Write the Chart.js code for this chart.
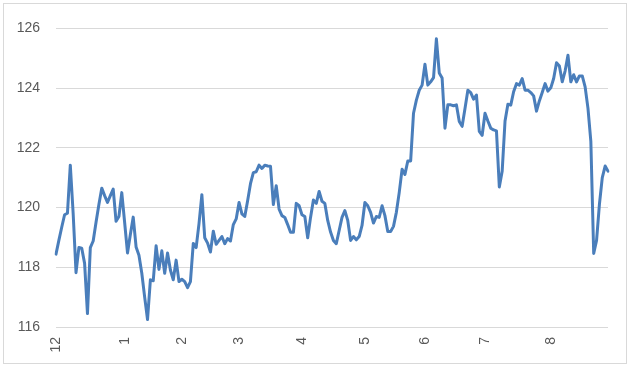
<!DOCTYPE html>
<html>
<head>
<meta charset="utf-8">
<script src="https://cdn.jsdelivr.net/npm/chart.js@4"></script>
<style>
  html, body { margin: 0; padding: 0; background: #ffffff; }
  #frame { position: absolute; left: 3px; top: 3px; width: 624px; height: 361px; box-sizing: border-box; border: 1px solid #d9d9d9; background: #fff; }
  #wrap { position: absolute; left: 0; top: 0; width: 622px; height: 359px; }
</style>
</head>
<body>
<div id="frame"><div id="wrap"><canvas id="c"></canvas></div></div>
<script>
// Month tick labels and the data index at which each appears
const monthLabels = ["12", "1", "2", "3", "4", "5", "6", "7", "8"];
const monthIndex  = [0, 24, 44, 64, 86, 108, 129, 150, 173];

// Series values (one per trading day)
const values = [
  118.44, 118.9, 119.34, 119.76, 119.81, 121.42, 119.8, 117.82, 118.66, 118.64, 118.13,
  116.45, 118.66, 118.88, 119.51, 120.1, 120.65, 120.4, 120.17, 120.4, 120.62,
  119.54, 119.7, 120.5, 119.5, 118.48, 119.1, 119.68, 118.68, 118.4, 117.8,
  117.0, 116.25, 117.58, 117.55, 118.72, 117.93, 118.55, 117.8, 118.48, 117.91,
  117.58, 118.24, 117.52, 117.6, 117.52, 117.32, 117.52, 118.8, 118.66, 119.46,
  120.43, 118.99, 118.81, 118.51, 119.21, 118.77, 118.9, 119.03, 118.79, 118.96,
  118.88, 119.43, 119.62, 120.17, 119.79, 119.7, 120.23, 120.8, 121.17, 121.2,
  121.42, 121.31, 121.42, 121.39, 121.38, 120.1, 120.73, 119.95, 119.73, 119.67,
  119.43, 119.17, 119.17, 120.14, 120.06, 119.76, 119.7, 118.99, 119.67, 120.25,
  120.14, 120.54, 120.21, 120.14, 119.57, 119.18, 118.9, 118.79, 119.23, 119.67,
  119.9, 119.57, 118.9, 119.03, 118.92, 119.03, 119.4, 120.17, 120.06, 119.84,
  119.48, 119.7, 119.67, 120.06, 119.73, 119.2, 119.2, 119.37, 119.84, 120.5,
  121.28, 121.11, 121.56, 121.56, 123.16, 123.6, 123.93, 124.1, 124.8, 124.1,
  124.21, 124.35, 125.65, 124.51, 124.34, 122.66, 123.44, 123.44, 123.41, 123.44,
  122.88, 122.72, 123.32, 123.93, 123.85, 123.63, 123.77, 122.55, 122.42, 123.16,
  122.9, 122.66, 122.6, 122.57, 120.69, 121.22, 122.9, 123.46, 123.43, 123.88,
  124.15, 124.1, 124.32, 123.93, 123.93, 123.85, 123.74, 123.23, 123.57, 123.85,
  124.15, 123.9, 124.01, 124.32, 124.85, 124.74, 124.21, 124.57, 125.1, 124.21,
  124.45, 124.21, 124.41, 124.41, 124.04, 123.32, 122.22, 118.46, 118.9, 120.11,
  121.0, 121.39, 121.22
];

// Y axis range / step
const yMin = 116, yMax = 126, yStep = 2;

// Build category labels: empty except at month starts
const labels = values.map(() => "");
monthIndex.forEach((idx, k) => { labels[idx] = monthLabels[k]; });

new Chart(document.getElementById("c"), {
  type: "line",
  data: {
    labels: labels,
    datasets: [{
      data: values,
      borderColor: "#4a7ebb",
      borderWidth: 3,
      pointRadius: 0,
      tension: 0,
      fill: false,
      borderJoinStyle: "round",
      borderCapStyle: "round"
    }]
  },
  options: {
    responsive: true,
    maintainAspectRatio: false,
    animation: false,
    layout: { padding: { top: 22, right: 18, bottom: 0, left: 0 } },
    plugins: { legend: { display: false }, tooltip: { enabled: false } },
    scales: {
      x: {
        offset: false,
        grid: { display: false, drawTicks: false },
        border: { display: false },
        ticks: {
          autoSkip: false,
          minRotation: 90,
          maxRotation: 90,
          padding: 10,
          color: "#595959",
          font: { family: "'Liberation Sans', Arial, sans-serif", size: 14 }
        },
        afterFit: (s) => { s.height = 36; s.paddingLeft = 0; s.paddingRight = 0; }
      },
      y: {
        min: yMin,
        max: yMax,
        grid: { color: "#d9d9d9", lineWidth: 1, drawTicks: false },
        border: { display: false },
        ticks: {
          stepSize: yStep,
          padding: 16,
          color: "#595959",
          font: { family: "'Liberation Sans', Arial, sans-serif", size: 14 }
        },
        afterFit: (s) => { s.width = 52; }
      }
    }
  }
});
</script>
</body>
</html>
